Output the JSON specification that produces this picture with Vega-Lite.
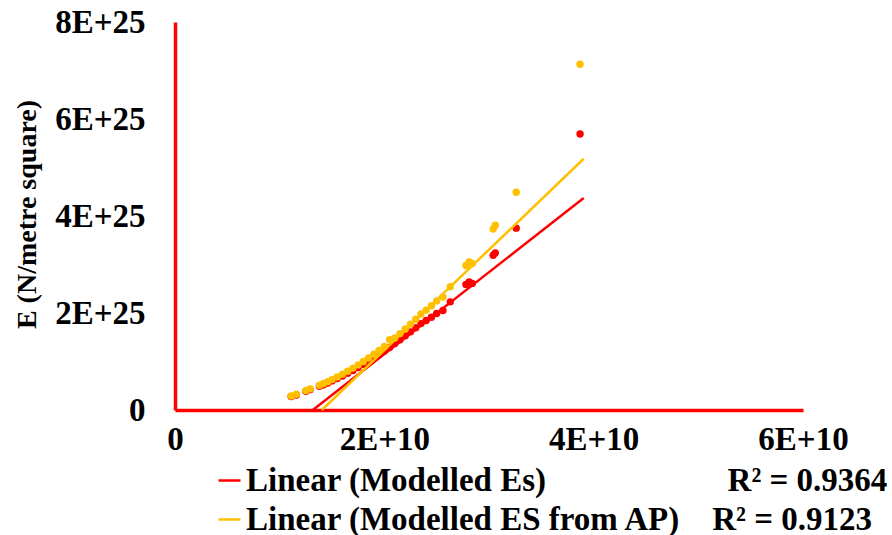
{
  "$schema": "https://vega.github.io/schema/vega-lite/v6.json",
  "width": 628,
  "height": 388,
  "autosize": {"type": "none"},
  "padding": {"left": 175, "top": 22, "right": 89, "bottom": 125},
  "background": "white",
  "config": {"view": {"stroke": null}, "font": "Liberation Serif"},
  "datasets": {
    "points": [
      {"x": 1.11e10, "es": 2.8e24, "ap": 2.9e24},
      {"x": 1.16e10, "es": 3.1e24, "ap": 3.25e24},
      {"x": 1.25e10, "es": 3.85e24, "ap": 4.0e24},
      {"x": 1.29e10, "es": 4.2e24, "ap": 4.35e24},
      {"x": 1.38e10, "es": 4.9e24, "ap": 5.1e24},
      {"x": 1.42e10, "es": 5.2e24, "ap": 5.45e24},
      {"x": 1.46e10, "es": 5.55e24, "ap": 5.85e24},
      {"x": 1.50e10, "es": 6.0e24, "ap": 6.27e24},
      {"x": 1.55e10, "es": 6.48e24, "ap": 6.82e24},
      {"x": 1.60e10, "es": 7.0e24, "ap": 7.39e24},
      {"x": 1.65e10, "es": 7.56e24, "ap": 8.0e24},
      {"x": 1.70e10, "es": 8.16e24, "ap": 8.64e24},
      {"x": 1.75e10, "es": 8.74e24, "ap": 9.3e24},
      {"x": 1.80e10, "es": 9.4e24, "ap": 1.0e25},
      {"x": 1.85e10, "es": 1.0e25, "ap": 1.072e25},
      {"x": 1.90e10, "es": 1.073e25, "ap": 1.148e25},
      {"x": 1.95e10, "es": 1.141e25, "ap": 1.227e25},
      {"x": 2.00e10, "es": 1.217e25, "ap": 1.309e25},
      {"x": 2.05e10, "es": 1.29e25, "ap": 1.45e25},
      {"x": 2.10e10, "es": 1.372e25, "ap": 1.483e25},
      {"x": 2.15e10, "es": 1.449e25, "ap": 1.575e25},
      {"x": 2.20e10, "es": 1.529e25, "ap": 1.671e25},
      {"x": 2.25e10, "es": 1.611e25, "ap": 1.77e25},
      {"x": 2.30e10, "es": 1.695e25, "ap": 1.873e25},
      {"x": 2.35e10, "es": 1.781e25, "ap": 1.979e25},
      {"x": 2.40e10, "es": 1.844e25, "ap": 2.06e25},
      {"x": 2.45e10, "es": 1.914e25, "ap": 2.15e25},
      {"x": 2.50e10, "es": 1.991e25, "ap": 2.25e25},
      {"x": 2.56e10, "es": 2.05e25, "ap": 2.33e25},
      {"x": 2.63e10, "es": 2.23e25, "ap": 2.54e25},
      {"x": 2.78e10, "es": 2.59e25, "ap": 2.98e25},
      {"x": 2.81e10, "es": 2.64e25, "ap": 3.05e25},
      {"x": 2.84e10, "es": 2.61e25, "ap": 3.02e25},
      {"x": 3.04e10, "es": 3.19e25, "ap": 3.73e25},
      {"x": 3.06e10, "es": 3.24e25, "ap": 3.81e25},
      {"x": 3.26e10, "es": 3.75e25, "ap": 4.49e25},
      {"x": 3.87e10, "es": 5.69e25, "ap": 7.13e25}
    ],
    "trend": [
      {"series": "Linear (Modelled Es)", "x": 1.317e10, "y": 0},
      {"series": "Linear (Modelled Es)", "x": 3.905e10, "y": 4.37e25},
      {"series": "Linear (Modelled ES from AP)", "x": 1.403e10, "y": 0},
      {"series": "Linear (Modelled ES from AP)", "x": 3.905e10, "y": 5.18e25}
    ]
  },
  "layer": [
    {
      "data": {"name": "points"},
      "mark": {"type": "circle", "size": 55, "opacity": 1, "color": "#FF0000"},
      "encoding": {
        "x": {
          "field": "x",
          "type": "quantitative",
          "title": null,
          "scale": {"domain": [0, 6e10], "nice": false},
          "axis": {
            "values": [0, 2e10, 4e10, 6e10],
            "labelExpr": "datum.value == 0 ? '0' : round(datum.value / 1e10) + 'E+10'",
            "ticks": false,
            "grid": false,
            "domainColor": "#FF0000",
            "domainWidth": 3.5,
            "labelFont": "Liberation Serif",
            "labelFontWeight": "bold",
            "labelFontSize": 33,
            "labelColor": "black",
            "labelPadding": 13,
            "labelFlush": false,
            "labelOverlap": false
          }
        },
        "y": {
          "field": "es",
          "type": "quantitative",
          "title": "E (N/metre square)",
          "scale": {"domain": [0, 8e25], "nice": false},
          "axis": {
            "values": [0, 2e25, 4e25, 6e25, 8e25],
            "labelExpr": "datum.value == 0 ? '0' : round(datum.value / 1e25) + 'E+25'",
            "ticks": false,
            "grid": false,
            "domainColor": "#FF0000",
            "domainWidth": 3.5,
            "labelFont": "Liberation Serif",
            "labelFontWeight": "bold",
            "labelFontSize": 33,
            "labelColor": "black",
            "labelPadding": 30,
            "labelFlush": false,
            "labelOverlap": false,
            "titleFont": "Liberation Serif",
            "titleFontWeight": "bold",
            "titleFontSize": 28,
            "titleColor": "black",
            "titleAngle": 270,
            "titleAlign": "center",
            "titleBaseline": "middle",
            "titleX": -148,
            "titleY": 192
          }
        }
      }
    },
    {
      "data": {"name": "points"},
      "mark": {"type": "circle", "size": 55, "opacity": 1, "color": "#FFC000"},
      "encoding": {
        "x": {"field": "x", "type": "quantitative", "title": null},
        "y": {"field": "ap", "type": "quantitative", "title": "E (N/metre square)"}
      }
    },
    {
      "data": {"name": "trend"},
      "mark": {"type": "line", "strokeWidth": 2.5},
      "encoding": {
        "x": {"field": "x", "type": "quantitative", "title": null},
        "y": {"field": "y", "type": "quantitative", "title": "E (N/metre square)"},
        "color": {
          "field": "series",
          "type": "nominal",
          "sort": null,
          "scale": {
            "domain": ["Linear (Modelled Es)", "Linear (Modelled ES from AP)"],
            "range": ["#FF0000", "#FFC000"]
          },
          "legend": {
            "orient": "none",
            "legendX": 38,
            "legendY": 442,
            "direction": "vertical",
            "title": null,
            "padding": 0,
            "symbolType": "stroke",
            "symbolSize": 484,
            "symbolStrokeWidth": 2.5,
            "labelFont": "Liberation Serif",
            "labelFontWeight": "bold",
            "labelFontSize": 33,
            "labelColor": "black",
            "labelOffset": 0,
            "labelLimit": 900,
            "rowPadding": 5,
            "labelExpr": "datum.label == 'Linear (Modelled Es)' ? datum.label + '\u00a0\u00a0\u00a0\u00a0\u00a0\u00a0\u00a0\u00a0\u00a0\u00a0\u00a0\u00a0\u00a0\u00a0\u00a0\u00a0\u00a0\u00a0\u00a0\u00a0\u00a0\u00a0R² = 0.9364' : datum.label + '\u00a0\u00a0\u00a0\u00a0R² = 0.9123'"
          }
        }
      }
    }
  ]
}
